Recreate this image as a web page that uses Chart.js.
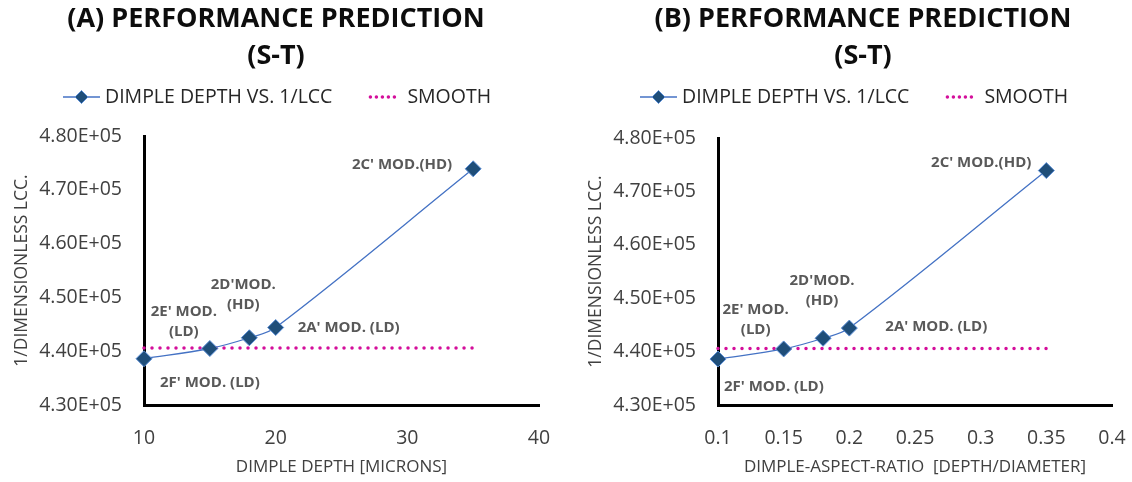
<!DOCTYPE html>
<html>
<head>
<meta charset="utf-8">
<script src="https://cdn.jsdelivr.net/npm/chart.js@4"></script>
<style>
  html, body { margin: 0; padding: 0; background: #fff; }
  body { width: 1132px; height: 482px; position: relative; overflow: hidden; }
  canvas { position: absolute; top: 0; }
  #chartA { left: 0; }
  #chartB { left: 566px; }
</style>
</head>
<body>
<canvas id="chartA" width="566" height="482"></canvas>
<canvas id="chartB" width="566" height="482"></canvas>
<script>
// data
const depthMicrons = [10, 15, 18, 20, 35];
const aspectRatio = [0.1, 0.15, 0.18, 0.2, 0.35];
const invLcc = [438600, 440500, 442500, 444400, 473900];
const smoothLcc = [440600, 440600, 440600, 440600, 440600];
const pointNames = ["2F' MOD. (LD)", ["2E' MOD.", "(LD)"], ["2D'MOD.", "(HD)"], "2A' MOD. (LD)", "2C' MOD.(HD)"];
const seriesNames = ['DIMPLE DEPTH VS. 1/LCC', 'SMOOTH'];
const titleA = ['(A) PERFORMANCE PREDICTION', '(S-T)'];
const titleB = ['(B) PERFORMANCE PREDICTION', '(S-T)'];
const yAxisTitle = '1/DIMENSIONLESS LCC.';
const xAxisTitleA = 'DIMPLE DEPTH [MICRONS]';
const xAxisTitleB = 'DIMPLE-ASPECT-RATIO  [DEPTH/DIAMETER]';

const FONT = "'Open Sans', sans-serif";
const BLUE_LINE = '#4472c4';
const BLUE_FILL = '#1f4e79';
const BLUE_EDGE = '#5b8ed6';
const MAGENTA = '#d40f9b';

function drawDiamond(ctx, x, y, r) {
  ctx.beginPath();
  ctx.moveTo(x - r, y);
  ctx.lineTo(x, y - r);
  ctx.lineTo(x + r, y);
  ctx.lineTo(x, y + r);
  ctx.closePath();
  ctx.fillStyle = BLUE_FILL;
  ctx.fill();
  ctx.strokeStyle = BLUE_EDGE;
  ctx.lineWidth = 1;
  ctx.stroke();
}

// title + legend above the plot
const headerPlugin = {
  id: 'header',
  afterDraw(chart, args, opts) {
    const ctx = chart.ctx;
    ctx.save();
    ctx.fillStyle = '#0d0d0d';
    ctx.font = `bold 27px ${FONT}`;
    ctx.textAlign = 'center';
    ctx.textBaseline = 'middle';
    opts.title.forEach((line, i) => ctx.fillText(line, opts.titleX, 19 + i * 37));

    const y = 97;
    let x = opts.legendX;
    ctx.strokeStyle = BLUE_LINE;
    ctx.lineWidth = 1.5;
    ctx.beginPath();
    ctx.moveTo(x, y);
    ctx.lineTo(x + 37, y);
    ctx.stroke();
    drawDiamond(ctx, x + 18.5, y, 6.5);
    x += 42;

    ctx.font = `19.5px ${FONT}`;
    ctx.fillStyle = '#262626';
    ctx.textAlign = 'left';
    ctx.fillText(seriesNames[0], x, y);
    x += ctx.measureText(seriesNames[0]).width + 37;

    ctx.strokeStyle = MAGENTA;
    ctx.lineWidth = 3.5;
    ctx.lineCap = 'round';
    ctx.setLineDash([0.001, 6]);
    ctx.beginPath();
    ctx.moveTo(x + 1, y);
    ctx.lineTo(x + 26, y);
    ctx.stroke();
    ctx.setLineDash([]);
    x += 38;
    ctx.fillText(seriesNames[1], x, y);
    ctx.restore();
  }
};

// names written next to each marker
const pointLabelPlugin = {
  id: 'pointLabels',
  afterDatasetsDraw(chart, args, opts) {
    const meta = chart.getDatasetMeta(0);
    const ctx = chart.ctx;
    ctx.save();
    ctx.font = `bold 15px ${FONT}`;
    ctx.fillStyle = '#595959';
    ctx.textBaseline = 'middle';
    meta.data.forEach((pt, i) => {
      const o = opts.offsets[i];
      ctx.textAlign = o.align;
      [].concat(pointNames[i]).forEach((t, j) => ctx.fillText(t, pt.x + o.dx, pt.y + o.dy + j * 20));
    });
    ctx.restore();
  }
};

function buildChart(id, xValues, xRange, xTitle, title, box) {
  return new Chart(document.getElementById(id), {
    type: 'scatter',
    data: {
      datasets: [{
        label: seriesNames[0],
        data: xValues.map((x, i) => ({ x, y: invLcc[i] })),
        showLine: true,
        borderColor: BLUE_LINE,
        borderWidth: 1.3,
        tension: 0.35,
        pointStyle: 'rectRot',
        pointRadius: 8,
        pointBackgroundColor: BLUE_FILL,
        pointBorderColor: BLUE_EDGE,
        pointBorderWidth: 1,
        clip: false
      }, {
        label: seriesNames[1],
        data: xValues.map((x, i) => ({ x, y: smoothLcc[i] })),
        showLine: true,
        borderColor: MAGENTA,
        borderWidth: 3.5,
        borderDash: [0.001, 8],
        borderCapStyle: 'round',
        pointRadius: 0,
        clip: false
      }]
    },
    options: {
      responsive: false,
      animation: false,
      layout: { padding: { top: box.top, right: box.padRight, left: 0, bottom: 0 } },
      plugins: {
        legend: { display: false },
        tooltip: { enabled: false },
        header: { title, titleX: box.titleX, legendX: box.legendX },
        pointLabels: { offsets: box.offsets }
      },
      scales: {
        x: {
          type: 'linear',
          min: xRange[0],
          max: xRange[1],
          grid: { display: false, drawTicks: false, tickLength: 0 },
          border: { display: true, color: '#000', width: 3 },
          ticks: {
            stepSize: xRange[2],
            padding: 22,
            color: '#404040',
            font: { family: FONT, size: 19.5 },
            callback: v => String(Number(v.toFixed(2)))
          },
          title: {
            display: true, text: xTitle, color: '#404040',
            font: { family: FONT, size: 17 }, padding: { top: 0, bottom: 5 }
          },
          // fixed band below the plot; side room comes from layout padding only
          afterFit: s => {
            s.height = 482 - box.bottom;
            s.paddingLeft = 0;
            s.paddingRight = 0;
          }
        },
        y: {
          min: 430000,
          max: 480000,
          grid: { display: false, drawTicks: false, tickLength: 0 },
          border: { display: true, color: '#000', width: 3 },
          ticks: {
            stepSize: 10000,
            padding: 22,
            color: '#404040',
            font: { family: FONT, size: 19.5 },
            callback: v => (v / 1e5).toFixed(2) + 'E+05'
          },
          title: {
            display: true, text: yAxisTitle, color: '#404040',
            font: { family: FONT, size: 17.5 }, padding: { top: box.yTitlePad, bottom: 0 }
          },
          afterFit: s => { s.width = box.left; }
        }
      }
    },
    plugins: [headerPlugin, pointLabelPlugin]
  });
}

buildChart('chartA', depthMicrons, [10, 40, 10], xAxisTitleA, titleA, {
  left: 144, top: 136, bottom: 405, padRight: 27, yTitlePad: 12,
  titleX: 276, legendX: 63,
  offsets: [
    { dx: 16, dy: 24, align: 'left' },
    { dx: -26, dy: -37, align: 'center' },
    { dx: -6, dy: -53, align: 'center' },
    { dx: 22, dy: 0, align: 'left' },
    { dx: -21, dy: -4, align: 'right' }
  ]
});

buildChart('chartB', aspectRatio, [0.1, 0.4, 0.05], xAxisTitleB, titleB, {
  left: 152, top: 138, bottom: 405, padRight: 20, yTitlePad: 20,
  titleX: 297, legendX: 74,
  offsets: [
    { dx: 6, dy: 28, align: 'left' },
    { dx: -28, dy: -39, align: 'center' },
    { dx: -1, dy: -58, align: 'center' },
    { dx: 36, dy: -1, align: 'left' },
    { dx: -15, dy: -8, align: 'right' }
  ]
});
</script>
</body>
</html>
